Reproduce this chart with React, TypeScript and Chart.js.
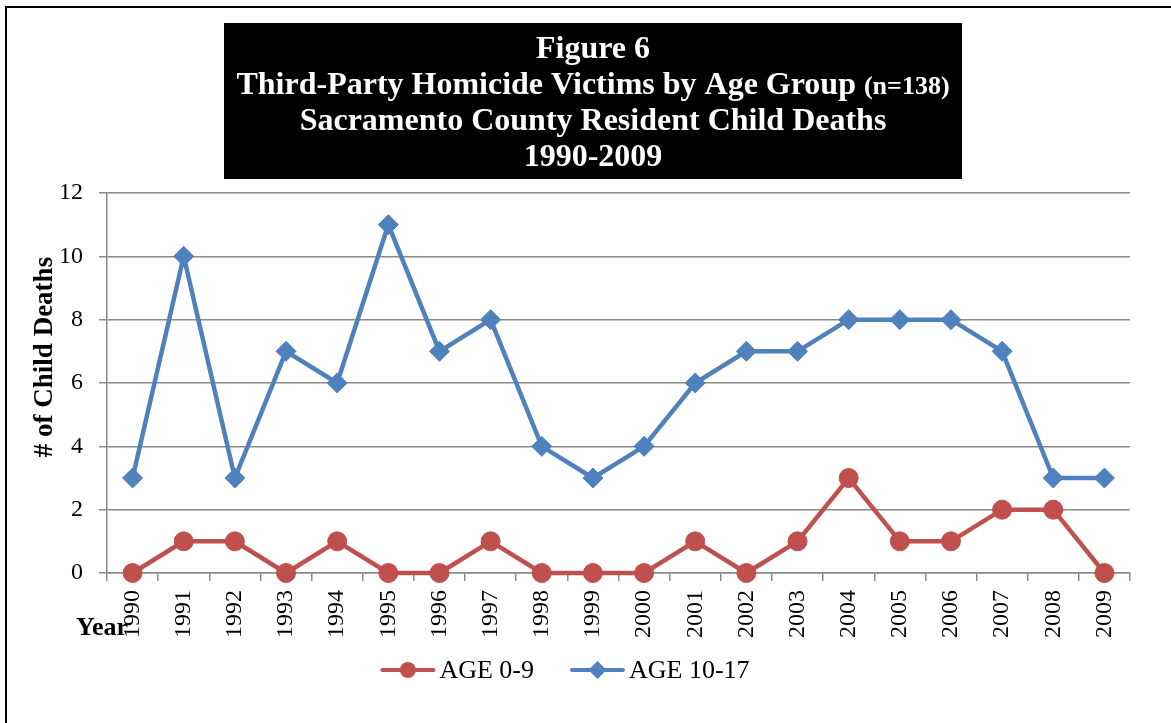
import React, { useEffect, useRef } from 'react';
import { Chart, registerables } from 'chart.js';

Chart.register(...registerables);

const years = ['1990', '1991', '1992', '1993', '1994', '1995', '1996', '1997', '1998', '1999', '2000', '2001', '2002', '2003', '2004', '2005', '2006', '2007', '2008', '2009'];
const age0to9 = [0, 1, 1, 0, 1, 0, 0, 1, 0, 0, 0, 1, 0, 1, 3, 1, 1, 2, 2, 0];
const age10to17 = [3, 10, 3, 7, 6, 11, 7, 8, 4, 3, 4, 6, 7, 7, 8, 8, 8, 7, 3, 3];
const seriesNames = ['AGE 0-9', 'AGE 10-17'];
const titleLine1 = 'Figure 6';
const titleLine2a = 'Third-Party Homicide Victims by Age Group ';
const titleLine2b = '(n=138)';
const titleLine3 = 'Sacramento County Resident Child Deaths';
const titleLine4 = '1990-2009';
const yTitle = '# of Child Deaths';
const xTitle = 'Year';

const RED = '#C0504D';
const BLUE = '#4F81BD';
const GRID = '#8a8a8a';
const SERIF = '"Liberation Serif", "Times New Roman", serif';

const decorPlugin = {
  id: 'decor',
  afterDraw(chart: any) {
    const ctx: CanvasRenderingContext2D = chart.ctx;
    ctx.save();
    // Title box
    ctx.fillStyle = '#000';
    ctx.fillRect(224, 23, 738, 156);
    ctx.fillStyle = '#fff';
    ctx.textBaseline = 'alphabetic';
    const cx = 593;
    ctx.textAlign = 'center';
    ctx.font = `bold 32px ${SERIF}`;
    ctx.fillText(titleLine1, cx, 58);
    ctx.fillText(titleLine3, cx, 130);
    ctx.fillText(titleLine4, cx, 166);
    // mixed-size line
    ctx.textAlign = 'left';
    ctx.font = `bold 32px ${SERIF}`;
    const wa = ctx.measureText(titleLine2a).width;
    ctx.font = `bold 26px ${SERIF}`;
    const wb = ctx.measureText(titleLine2b).width;
    const sx = cx - (wa + wb) / 2;
    ctx.font = `bold 32px ${SERIF}`;
    ctx.fillText(titleLine2a, sx, 94);
    ctx.font = `bold 26px ${SERIF}`;
    ctx.fillText(titleLine2b, sx + wa, 94);

    // Y axis title
    ctx.fillStyle = '#000';
    ctx.font = `bold 27px ${SERIF}`;
    ctx.textAlign = 'center';
    ctx.textBaseline = 'middle';
    ctx.translate(45, 357);
    ctx.rotate(-Math.PI / 2);
    ctx.fillText(yTitle, 0, 0);
    ctx.setTransform(1, 0, 0, 1, 0, 0);

    // X axis title
    ctx.font = `bold 26px ${SERIF}`;
    ctx.textAlign = 'left';
    ctx.textBaseline = 'alphabetic';
    ctx.fillText(xTitle, 76, 635);

    // Legend
    const datasets = chart.data.datasets;
    ctx.font = `26px ${SERIF}`;
    const lineLen = 55;
    const gapText = 4;
    const gapItems = 36;
    const widths = datasets.map((d: any) => ctx.measureText(d.label).width);
    const total = widths.reduce((a: number, w: number) => a + lineLen + gapText + w, 0) + gapItems * (datasets.length - 1);
    let x = 565 - total / 2;
    const ly = 670;
    datasets.forEach((d: any, i: number) => {
      ctx.strokeStyle = d.borderColor;
      ctx.lineWidth = 4;
      ctx.lineCap = 'round';
      ctx.beginPath();
      ctx.moveTo(x + 2, ly);
      ctx.lineTo(x + lineLen - 2, ly);
      ctx.stroke();
      const mx = x + lineLen / 2;
      ctx.fillStyle = d.pointBackgroundColor;
      ctx.beginPath();
      if (d.pointStyle === 'circle') {
        ctx.arc(mx, ly, 8, 0, Math.PI * 2);
      } else {
        const r = 9;
        ctx.moveTo(mx, ly - r);
        ctx.lineTo(mx + r, ly);
        ctx.lineTo(mx, ly + r);
        ctx.lineTo(mx - r, ly);
        ctx.closePath();
      }
      ctx.fill();
      ctx.fillStyle = '#000';
      ctx.textAlign = 'left';
      ctx.textBaseline = 'alphabetic';
      ctx.fillText(d.label, x + lineLen + gapText, ly + 8);
      x += lineLen + gapText + widths[i] + gapItems;
    });
    ctx.restore();
  },
};

export default function App() {
  const ref = useRef<HTMLCanvasElement | null>(null);

  useEffect(() => {
    if (!ref.current) return;
    const chart = new Chart(ref.current, {
      type: 'line',
      data: {
        labels: years,
        datasets: [
          {
            label: seriesNames[0],
            data: age0to9,
            borderColor: RED,
            backgroundColor: RED,
            pointBackgroundColor: RED,
            pointBorderColor: RED,
            pointStyle: 'circle',
            pointRadius: 9.5,
            pointBorderWidth: 1,
            borderWidth: 4.5,
            tension: 0,
            clip: false,
          },
          {
            label: seriesNames[1],
            data: age10to17,
            borderColor: BLUE,
            backgroundColor: BLUE,
            pointBackgroundColor: BLUE,
            pointBorderColor: BLUE,
            pointStyle: 'rectRot',
            pointRadius: 10,
            pointBorderWidth: 1,
            borderWidth: 4.5,
            tension: 0,
            clip: false,
          },
        ],
      },
      options: {
        responsive: false,
        animation: false,
        devicePixelRatio: 1,
        layout: { padding: { left: 0, top: 193, right: 41, bottom: 0 } },
        plugins: {
          legend: { display: false },
          title: { display: false },
          tooltip: { enabled: false },
        },
        scales: {
          x: {
            type: 'category',
            offset: true,
            grid: {
              offset: true,
              drawOnChartArea: false,
              drawTicks: true,
              tickLength: 8,
              color: GRID,
              lineWidth: 1.5,
            },
            border: { display: true, color: GRID, width: 1.5 },
            ticks: {
              autoSkip: false,
              minRotation: 90,
              maxRotation: 90,
              padding: 9,
              color: '#000',
              font: { family: SERIF, size: 24 },
            },
            afterFit: (s: any) => {
              s.height = 150;
            },
          },
          y: {
            min: 0,
            max: 12,
            ticks: {
              stepSize: 2,
              padding: 16,
              color: '#000',
              font: { family: SERIF, size: 24 },
            },
            grid: {
              drawTicks: true,
              tickLength: 8,
              color: GRID,
              lineWidth: 1.5,
            },
            border: { display: true, color: GRID, width: 1.5 },
            afterFit: (s: any) => {
              s.width = 107;
            },
          },
        },
      },
      plugins: [decorPlugin],
    });
    return () => chart.destroy();
  }, []);

  return (
    <div style={{ position: 'fixed', left: 0, top: 0, width: 1171, height: 723, overflow: 'hidden', background: '#fff' }}>
      <div style={{ position: 'absolute', left: 5, top: 6, width: 1300, height: 900, border: '2px solid #000' }} />
      <canvas ref={ref} width={1171} height={723} style={{ position: 'absolute', left: 0, top: 0, width: 1171, height: 723 }} />
    </div>
  );
}
